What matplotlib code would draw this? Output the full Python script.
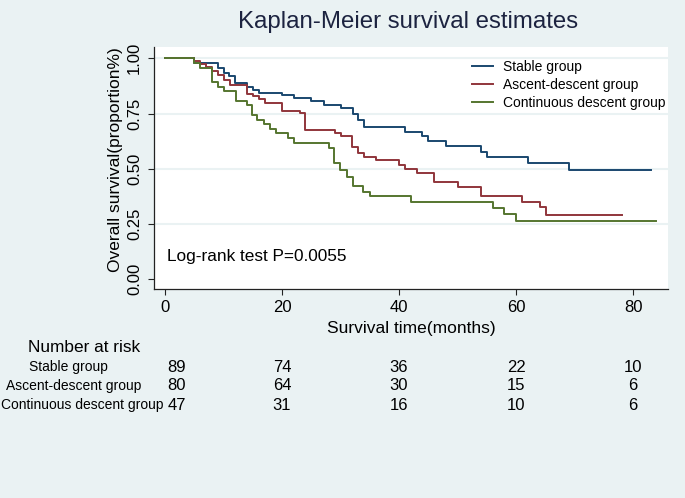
import matplotlib
matplotlib.use("Agg")
import matplotlib.pyplot as plt
import matplotlib.transforms as mtransforms

plt.rcParams['font.family'] = ['Liberation Sans', 'DejaVu Sans']

# ---- data ----
stable_t = [0, 5, 9.1, 10.1, 11.0, 12.0, 14.1, 15.0, 16.1, 20.0, 22.1, 25.0, 27.1, 30.0, 32.2, 33.0, 34.0, 41.0, 44.0, 45.0, 48.0, 54.0, 55.0, 62.0, 69.0, 83.0]
stable_s = [1.0, 0.979, 0.957, 0.934, 0.922, 0.888, 0.871, 0.856, 0.845, 0.834, 0.821, 0.808, 0.788, 0.774, 0.747, 0.720, 0.688, 0.666, 0.648, 0.624, 0.604, 0.578, 0.555, 0.528, 0.493, 0.493]

ascent_t = [0, 5, 6, 7, 8, 9, 10, 11.1, 14.1, 15.1, 16.1, 17.1, 20.0, 23.0, 24.0, 29.1, 30.1, 32.0, 33.0, 34.0, 36.1, 40.0, 41.0, 43.0, 46.0, 50.0, 54.0, 61.1, 64.1, 65.1, 78.1]
ascent_s = [1.0, 0.988, 0.975, 0.962, 0.943, 0.926, 0.903, 0.878, 0.840, 0.828, 0.815, 0.800, 0.763, 0.751, 0.676, 0.664, 0.648, 0.597, 0.572, 0.553, 0.538, 0.519, 0.500, 0.482, 0.442, 0.420, 0.377, 0.350, 0.326, 0.290, 0.290]

contin_t = [0, 5, 6, 8, 9.1, 10, 12.1, 14.1, 14.8, 15.8, 16.9, 17.9, 19.0, 21.0, 22.1, 28.0, 28.9, 29.9, 31.1, 32.1, 33.9, 35.0, 42.0, 56.0, 58.0, 60.0, 84.0]
contin_s = [1.0, 0.979, 0.957, 0.894, 0.872, 0.851, 0.809, 0.787, 0.745, 0.723, 0.702, 0.681, 0.660, 0.638, 0.617, 0.596, 0.528, 0.495, 0.464, 0.422, 0.397, 0.375, 0.351, 0.324, 0.295, 0.264, 0.264]

group_names = ["Stable group", "Ascent-descent group", "Continuous descent group"]
risk_times = [0, 20, 40, 60, 80]
risk_stable = [89, 74, 36, 22, 10]
risk_ascent = [80, 64, 30, 15, 6]
risk_contin = [47, 31, 16, 10, 6]

x_ticks = [0, 20, 40, 60, 80]
y_ticks = [0.0, 0.25, 0.5, 0.75, 1.0]
y_ticklabels = ["0.00", "0.25", "0.50", "0.75", "1.00"]

colors = ["#1A476F", "#90353B", "#55752F"]
bg = "#EAF2F3"

W, H = 685, 498
fig = plt.figure(figsize=(W / 100, H / 100), dpi=100, facecolor=bg)
ax = fig.add_axes([154 / W, 1 - 289.3 / H, (668 - 154) / W, (289.3 - 47.3) / H])
ax.set_facecolor("white")

ax.set_xlim(-1.88, 85.98)
ax.set_ylim(-0.045, 1.0498)

for yv in [0.25, 0.5, 0.75, 1.0]:
    ax.axhline(yv, color=bg, lw=1.5, zorder=0)

series = [(stable_t, stable_s), (ascent_t, ascent_s), (contin_t, contin_s)]
for (t, s), c, name in zip(series, colors, group_names):
    ax.step(t, s, where="post", color=c, lw=1.4, label=name, zorder=3)

for sp in ["top", "right"]:
    ax.spines[sp].set_visible(False)
for sp in ["left", "bottom"]:
    ax.spines[sp].set_color("#222222")
    ax.spines[sp].set_linewidth(0.9)

ax.set_xticks(x_ticks)
ax.set_yticks(y_ticks)
ax.set_yticklabels(y_ticklabels, rotation=90, va="center")
ax.tick_params(axis="both", direction="out", length=4, width=0.8, color="#222222",
               labelsize=12, labelcolor="black")
ax.tick_params(axis="y", pad=4.5)
ax.tick_params(axis="x", pad=3.5)

ax.set_xlabel("Survival time(months)", fontsize=12.5, labelpad=4.5)
ax.set_ylabel("Overall survival(proportion%)", fontsize=12.5)
ax.yaxis.set_label_coords(-0.06, 0.534)

leg = ax.legend(loc="upper right", bbox_to_anchor=(1.006, 0.969), frameon=False, fontsize=10,
                handlelength=1.5, handletextpad=0.7, labelspacing=0.26, borderaxespad=0.0)

ax.text(0.4, 0.084, "Log-rank test P=0.0055", fontsize=12.4, va="baseline", ha="left", zorder=4)

fig.text(408.5 / W, 1 - 22 / H, "Kaplan-Meier survival estimates", fontsize=17.3,
         ha="center", va="center", color="#1c2340")

# ---- number at risk table ----
fig.text(28.4 / W, 1 - 347.5 / H, "Number at risk", fontsize=12.4, ha="left", va="center")
row_y = [367, 386, 405]
row_x = [29, 6.5, 1]
trans = mtransforms.blended_transform_factory(ax.transData, fig.transFigure)
for name, yv, xv, vals in zip(group_names, row_y, row_x, [risk_stable, risk_ascent, risk_contin]):
    fig.text(xv / W, 1 - yv / H, name, fontsize=10, ha="left", va="center")
    for i, (tt, v) in enumerate(zip(risk_times, vals)):
        xpos = tt if i > 0 else 2.0
        ax.text(xpos, 1 - yv / H, str(v), fontsize=12, ha="center", va="center",
                transform=trans, clip_on=False)

fig.savefig("out.png", dpi=100, facecolor=bg)
